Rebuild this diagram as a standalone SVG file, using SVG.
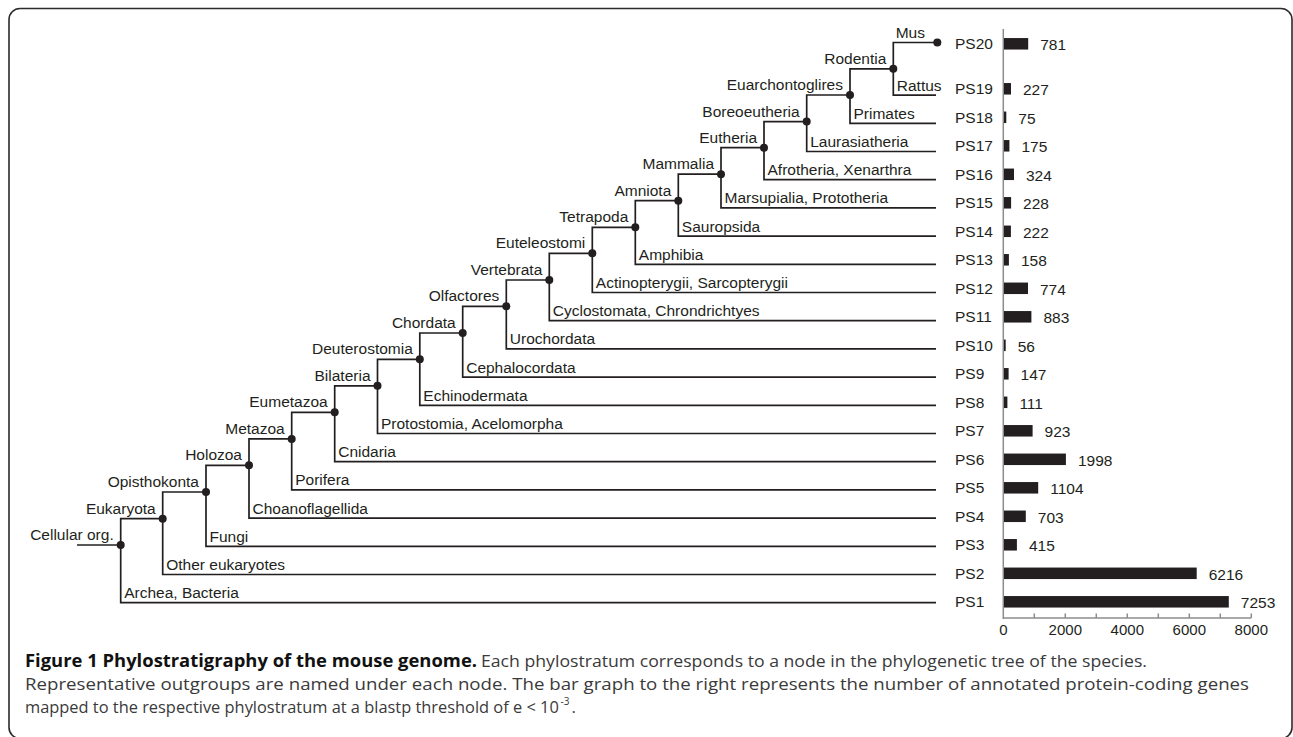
<svg xmlns="http://www.w3.org/2000/svg" width="1293" height="737" viewBox="0 0 1293 737">
<style>
.ln{stroke:#231f20;stroke-width:1.7;fill:none}
.dot{fill:#231f20}
.t{font-family:"Liberation Sans",Arial,sans-serif;font-size:15.5px;fill:#231f20}
.e{text-anchor:end}
.m{text-anchor:middle}
.bar{fill:#231f20}
.ax{stroke:#8c8c8c;stroke-width:1.5;fill:none}
.capb{font-family:"Open Sans","Noto Sans",sans-serif;font-size:17px;font-weight:bold;fill:#111}
.cap{font-family:"Open Sans","Noto Sans",sans-serif;font-size:17px;fill:#3a3a3a}
</style>
<rect x="9" y="8.5" width="1283" height="730" rx="11" fill="#fff" stroke="#2b2b2b" stroke-width="1.6"/>
<g id="connectors" class="ln">
<path d="M77 545H120.7"/>
<path d="M162.7 518.7H120.7V602.7H936"/>
<path d="M206 492H162.7V574.5H936"/>
<path d="M249 465.3H206V546.3H936"/>
<path d="M291.7 438.9H249V518.1H936"/>
<path d="M334.7 412.3H291.7V489.9H936"/>
<path d="M377.5 385.8H334.7V461.7H936"/>
<path d="M419.8 359.3H377.5V433.5H936"/>
<path d="M462.7 333H419.8V405.3H936"/>
<path d="M506.3 306.3H462.7V377.1H936"/>
<path d="M549.3 280H506.3V348.9H936"/>
<path d="M592.3 253.3H549.3V320.7H936"/>
<path d="M635.3 227.3H592.3V292.5H936"/>
<path d="M678.3 200.7H635.3V264.3H936"/>
<path d="M721 174.2H678.3V236.1H936"/>
<path d="M764 147.7H721V207.9H936"/>
<path d="M806.7 121.6H764V179.7H936"/>
<path d="M850 95H806.7V151.5H936"/>
<path d="M893.3 68.8H850V123.3H936"/>
<path d="M937.3 42.5H893.3V95.1H936"/>
</g>
<g id="node-cellular"><circle class="dot" cx="120.7" cy="545" r="4"/><text class="t e" x="113.7" y="540">Cellular org.</text></g>
<g id="node-eukaryota"><circle class="dot" cx="162.7" cy="518.7" r="4"/><text class="t e" x="155.7" y="513.7">Eukaryota</text></g>
<g id="node-opisthokonta"><circle class="dot" cx="206" cy="492" r="4"/><text class="t e" x="199" y="487">Opisthokonta</text></g>
<g id="node-holozoa"><circle class="dot" cx="249" cy="465.3" r="4"/><text class="t e" x="242" y="460.3">Holozoa</text></g>
<g id="node-metazoa"><circle class="dot" cx="291.7" cy="438.9" r="4"/><text class="t e" x="284.7" y="433.9">Metazoa</text></g>
<g id="node-eumetazoa"><circle class="dot" cx="334.7" cy="412.3" r="4"/><text class="t e" x="327.7" y="407.3">Eumetazoa</text></g>
<g id="node-bilateria"><circle class="dot" cx="377.5" cy="385.8" r="4"/><text class="t e" x="370.5" y="380.8">Bilateria</text></g>
<g id="node-deuterostomia"><circle class="dot" cx="419.8" cy="359.3" r="4"/><text class="t e" x="412.8" y="354.3">Deuterostomia</text></g>
<g id="node-chordata"><circle class="dot" cx="462.7" cy="333" r="4"/><text class="t e" x="455.7" y="328">Chordata</text></g>
<g id="node-olfactores"><circle class="dot" cx="506.3" cy="306.3" r="4"/><text class="t e" x="499.3" y="301.3">Olfactores</text></g>
<g id="node-vertebrata"><circle class="dot" cx="549.3" cy="280" r="4"/><text class="t e" x="542.3" y="275">Vertebrata</text></g>
<g id="node-euteleostomi"><circle class="dot" cx="592.3" cy="253.3" r="4"/><text class="t e" x="585.3" y="248.3">Euteleostomi</text></g>
<g id="node-tetrapoda"><circle class="dot" cx="635.3" cy="227.3" r="4"/><text class="t e" x="628.3" y="222.3">Tetrapoda</text></g>
<g id="node-amniota"><circle class="dot" cx="678.3" cy="200.7" r="4"/><text class="t e" x="671.3" y="195.7">Amniota</text></g>
<g id="node-mammalia"><circle class="dot" cx="721" cy="174.2" r="4"/><text class="t e" x="714" y="169.2">Mammalia</text></g>
<g id="node-eutheria"><circle class="dot" cx="764" cy="147.7" r="4"/><text class="t e" x="757" y="142.7">Eutheria</text></g>
<g id="node-boreoeutheria"><circle class="dot" cx="806.7" cy="121.6" r="4"/><text class="t e" x="799.7" y="116.6">Boreoeutheria</text></g>
<g id="node-euarchontoglires"><circle class="dot" cx="850" cy="95" r="4"/><text class="t e" x="843" y="90">Euarchontoglires</text></g>
<g id="node-rodentia"><circle class="dot" cx="893.3" cy="68.8" r="4"/><text class="t e" x="886.3" y="63.8">Rodentia</text></g>
<g id="node-mus"><circle class="dot" cx="937.3" cy="42.5" r="4"/><text class="t e" x="925" y="37.7">Mus</text></g>
<g id="outgroups">
<text class="t" x="124.2" y="598.2">Archea, Bacteria</text>
<text class="t" x="166.2" y="570">Other eukaryotes</text>
<text class="t" x="209.5" y="541.8">Fungi</text>
<text class="t" x="252.5" y="513.6">Choanoflagellida</text>
<text class="t" x="295.2" y="485.4">Porifera</text>
<text class="t" x="338.2" y="457.2">Cnidaria</text>
<text class="t" x="381" y="429">Protostomia, Acelomorpha</text>
<text class="t" x="423.3" y="400.8">Echinodermata</text>
<text class="t" x="466.2" y="372.6">Cephalocordata</text>
<text class="t" x="509.8" y="344.4">Urochordata</text>
<text class="t" x="552.8" y="316.2">Cyclostomata, Chrondrichtyes</text>
<text class="t" x="595.8" y="288">Actinopterygii, Sarcopterygii</text>
<text class="t" x="638.8" y="259.8">Amphibia</text>
<text class="t" x="681.8" y="231.6">Sauropsida</text>
<text class="t" x="724.5" y="203.4">Marsupialia, Prototheria</text>
<text class="t" x="767.5" y="175.2">Afrotheria, Xenarthra</text>
<text class="t" x="810.2" y="147">Laurasiatheria</text>
<text class="t" x="853.5" y="118.8">Primates</text>
<text class="t" x="896.8" y="90.6">Rattus</text>
</g>
<g id="axes" class="ax">
<path d="M1003.3 29V619"/>
<path d="M1003.3 618H1251.3"/>
<path d="M1034.3 613.5V618M1065.3 613.5V618M1096.3 613.5V618M1127.3 613.5V618M1158.3 613.5V618M1189.3 613.5V618M1220.3 613.5V618M1251.3 613.5V618"/>
</g>
<g id="axis-labels">
<text class="t m" x="1003.3" y="635" style="font-size:15px">0</text>
<text class="t m" x="1065.3" y="635" style="font-size:15px">2000</text>
<text class="t m" x="1127.3" y="635" style="font-size:15px">4000</text>
<text class="t m" x="1189.3" y="635" style="font-size:15px">6000</text>
<text class="t m" x="1251.3" y="635" style="font-size:15px">8000</text>
</g>
<g id="ps1"><text class="t" x="955" y="607.1">PS1</text><rect class="bar" x="1004" y="596.05" width="224.8" height="11.5"/><text class="t" x="1240.8" y="608.1">7253</text></g>
<g id="ps2"><text class="t" x="955" y="578.6">PS2</text><rect class="bar" x="1004" y="567.55" width="192.7" height="11.5"/><text class="t" x="1208.7" y="579.6">6216</text></g>
<g id="ps3"><text class="t" x="955" y="550.1">PS3</text><rect class="bar" x="1004" y="539.05" width="12.9" height="11.5"/><text class="t" x="1028.9" y="551.1">415</text></g>
<g id="ps4"><text class="t" x="955" y="521.6">PS4</text><rect class="bar" x="1004" y="510.55" width="21.8" height="11.5"/><text class="t" x="1037.8" y="522.6">703</text></g>
<g id="ps5"><text class="t" x="955" y="493.1">PS5</text><rect class="bar" x="1004" y="482.05" width="34.2" height="11.5"/><text class="t" x="1050.2" y="494.1">1104</text></g>
<g id="ps6"><text class="t" x="955" y="464.6">PS6</text><rect class="bar" x="1004" y="453.55" width="61.9" height="11.5"/><text class="t" x="1077.9" y="465.6">1998</text></g>
<g id="ps7"><text class="t" x="955" y="436.1">PS7</text><rect class="bar" x="1004" y="425.05" width="28.6" height="11.5"/><text class="t" x="1044.6" y="437.1">923</text></g>
<g id="ps8"><text class="t" x="955" y="407.6">PS8</text><rect class="bar" x="1004" y="396.55" width="3.4" height="11.5"/><text class="t" x="1019.4" y="408.6">111</text></g>
<g id="ps9"><text class="t" x="955" y="379.1">PS9</text><rect class="bar" x="1004" y="368.05" width="4.6" height="11.5"/><text class="t" x="1020.6" y="380.1">147</text></g>
<g id="ps10"><text class="t" x="955" y="350.6">PS10</text><rect class="bar" x="1004" y="339.55" width="1.7" height="11.5"/><text class="t" x="1017.7" y="351.6">56</text></g>
<g id="ps11"><text class="t" x="955" y="322.1">PS11</text><rect class="bar" x="1004" y="311.05" width="27.4" height="11.5"/><text class="t" x="1043.4" y="323.1">883</text></g>
<g id="ps12"><text class="t" x="955" y="293.6">PS12</text><rect class="bar" x="1004" y="282.55" width="24" height="11.5"/><text class="t" x="1040" y="294.6">774</text></g>
<g id="ps13"><text class="t" x="955" y="265.1">PS13</text><rect class="bar" x="1004" y="254.05" width="4.9" height="11.5"/><text class="t" x="1020.9" y="266.1">158</text></g>
<g id="ps14"><text class="t" x="955" y="236.6">PS14</text><rect class="bar" x="1004" y="225.55" width="6.9" height="11.5"/><text class="t" x="1022.9" y="237.6">222</text></g>
<g id="ps15"><text class="t" x="955" y="208.1">PS15</text><rect class="bar" x="1004" y="197.05" width="7.1" height="11.5"/><text class="t" x="1023.1" y="209.1">228</text></g>
<g id="ps16"><text class="t" x="955" y="179.6">PS16</text><rect class="bar" x="1004" y="168.55" width="10" height="11.5"/><text class="t" x="1026" y="180.6">324</text></g>
<g id="ps17"><text class="t" x="955" y="151.1">PS17</text><rect class="bar" x="1004" y="140.05" width="5.4" height="11.5"/><text class="t" x="1021.4" y="152.1">175</text></g>
<g id="ps18"><text class="t" x="955" y="122.6">PS18</text><rect class="bar" x="1004" y="111.55" width="2.3" height="11.5"/><text class="t" x="1018.3" y="123.6">75</text></g>
<g id="ps19"><text class="t" x="955" y="94.1">PS19</text><rect class="bar" x="1004" y="83.05" width="7" height="11.5"/><text class="t" x="1023" y="95.1">227</text></g>
<g id="ps20"><text class="t" x="955" y="49.1">PS20</text><rect class="bar" x="1004" y="38.05" width="24.2" height="11.5"/><text class="t" x="1040.2" y="50.1">781</text></g>
<g id="caption">
<text class="capb" x="25" y="667" textLength="452" lengthAdjust="spacingAndGlyphs">Figure 1 Phylostratigraphy of the mouse genome.</text>
<text class="cap" x="481" y="667" textLength="666" lengthAdjust="spacingAndGlyphs">Each phylostratum corresponds to a node in the phylogenetic tree of the species.</text>
<text class="cap" x="25" y="690" textLength="1224" lengthAdjust="spacingAndGlyphs">Representative outgroups are named under each node. The bar graph to the right represents the number of annotated protein-coding genes</text>
<text class="cap" x="25" y="713" style="font-size:16.4px">mapped to the respective phylostratum at a blastp threshold of e &lt; 10</text>
<text class="cap" x="560.5" y="705" style="font-size:10px">-3</text>
<text class="cap" x="571.5" y="713">.</text>
</g>
</svg>
